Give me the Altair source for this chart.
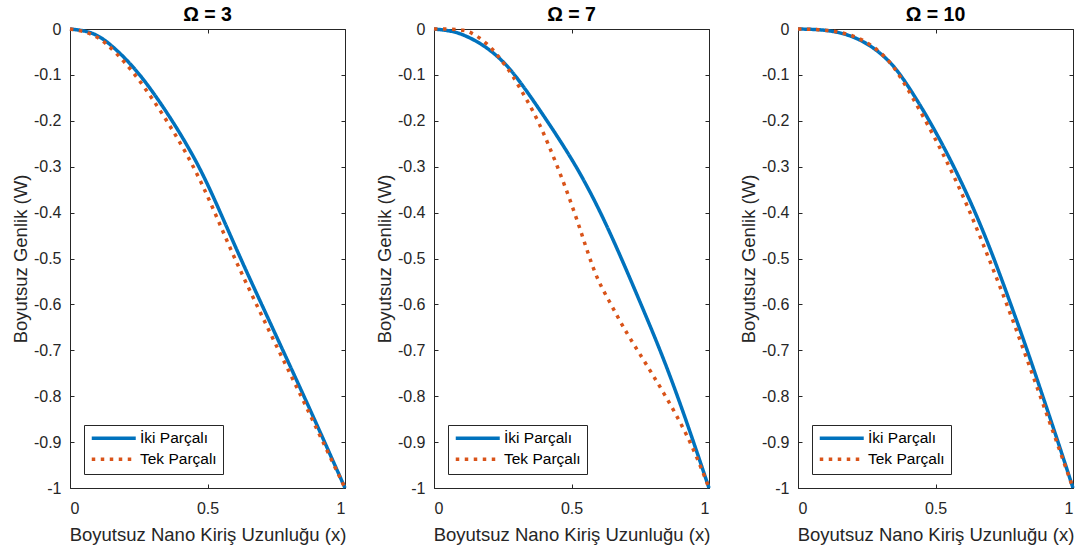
import altair as alt
import pandas as pd

SERIES = ["İki Parçalı", "Tek Parçalı"]
COLORS = ["#0072BD", "#D95319"]
TITLES = ["Ω = 3", "Ω = 7", "Ω = 10"]
X_TICKS = [0, 0.5, 1]
Y_TICKS = [-1, -0.9, -0.8, -0.7, -0.6, -0.5, -0.4, -0.3, -0.2, -0.1, 0]

# Omega = 3
x_iki_3 = [0, 0.06, 0.11, 0.17, 0.259, 0.374, 0.472, 0.547, 0.62, 0.697, 0.774, 0.851, 0.926, 1]
w_iki_3 = [0, -0.004, -0.016, -0.045, -0.1, -0.2, -0.3, -0.4, -0.5, -0.6, -0.7, -0.8, -0.9, -1]
x_tek_3 = [0, 0.06, 0.11, 0.16, 0.241, 0.354, 0.452, 0.527, 0.598, 0.678, 0.758, 0.841, 0.92, 1]
w_tek_3 = [0, -0.006, -0.02, -0.047, -0.1, -0.2, -0.3, -0.4, -0.5, -0.6, -0.7, -0.8, -0.9, -1]

# Omega = 7
x_iki_7 = [0, 0.066, 0.114, 0.175, 0.236, 0.297, 0.412, 0.52, 0.607, 0.682, 0.753, 0.823, 0.886, 0.944, 1]
w_iki_7 = [0, -0.004, -0.014, -0.033, -0.061, -0.1, -0.2, -0.3, -0.4, -0.5, -0.6, -0.7, -0.8, -0.9, -1]
x_tek_7 = [0, 0.06, 0.11, 0.139, 0.165, 0.19, 0.214, 0.236, 0.255, 0.285, 0.333, 0.38, 0.45, 0.512,
           0.566, 0.597, 0.644, 0.688, 0.74, 0.844, 0.935, 1]
w_tek_7 = [0, 0, -0.002, -0.009, -0.019, -0.031, -0.045, -0.061, -0.076, -0.1, -0.15, -0.2, -0.3, -0.4,
           -0.5, -0.55, -0.6, -0.65, -0.7, -0.8, -0.9, -1]

# Omega = 10
x_iki_10 = [0, 0.08, 0.14, 0.2, 0.262, 0.323, 0.376, 0.48, 0.568, 0.646, 0.713, 0.774, 0.834, 0.89, 0.946, 1]
w_iki_10 = [0, -0.001, -0.006, -0.016, -0.035, -0.064, -0.1, -0.2, -0.3, -0.4, -0.5, -0.6, -0.7, -0.8, -0.9, -1]
x_tek_10 = [0, 0.08, 0.14, 0.2, 0.262, 0.323, 0.37, 0.465, 0.552, 0.627, 0.694, 0.76, 0.821, 0.881, 0.941, 1]
w_tek_10 = [0, -0.001, -0.005, -0.014, -0.032, -0.063, -0.1, -0.2, -0.3, -0.4, -0.5, -0.6, -0.7, -0.8, -0.9, -1]

PANELS = [
    (x_iki_3, w_iki_3, x_tek_3, w_tek_3),
    (x_iki_7, w_iki_7, x_tek_7, w_tek_7),
    (x_iki_10, w_iki_10, x_tek_10, w_tek_10),
]

FONT = "Liberation Sans"
INK = "#262626"
TICK = 4
LEG_LINE = 44.0
LEG_R = LEG_LINE / 8.0


def make_df(xi, wi, xt, wt):
    rows = []
    for k, (a, b) in enumerate(zip(xi, wi)):
        rows.append({"x": a, "w": b, "seri": SERIES[0], "o": k})
    for k, (a, b) in enumerate(zip(xt, wt)):
        rows.append({"x": a, "w": b, "seri": SERIES[1], "o": k})
    return pd.DataFrame(rows)


YLAB = "datum.value < 0 ? '-' + format(-datum.value, '.1~f') : format(datum.value, '.1~f')"


def panel(i):
    df = make_df(*PANELS[i])
    xs = alt.Scale(domain=[0, 1], nice=False, zero=False)
    ys = alt.Scale(domain=[-1, 0], nice=False, zero=False)
    leg = alt.Legend(
        orient="bottom-left", offset=14, title=None, strokeColor=INK, fillColor="white",
        padding=5.5, symbolType="M-1,0H7", symbolSize=(2 * LEG_R) ** 2, symbolStrokeWidth=3.5,
        labelFontSize=15.5, labelFont=FONT, labelColor="black", rowPadding=4,
        labelOffset=LEG_LINE - 2 * LEG_R + 2, cornerRadius=0,
    )
    main = alt.Chart(df).mark_line(strokeWidth=3.5, interpolate="basis", strokeCap="butt").encode(
        x=alt.X("x:Q", scale=xs, axis=alt.Axis(
            values=X_TICKS, format="~g", title="Boyutsuz Nano Kiriş Uzunluğu (x)", ticks=False,
            grid=False, domain=False, labelPadding=12, titlePadding=9,
            labelFontSize=16, titleFontSize=18.5, labelFont=FONT, titleFont=FONT,
            labelColor=INK, titleColor=INK, titleFontWeight="normal")),
        y=alt.Y("w:Q", scale=ys, axis=alt.Axis(
            values=Y_TICKS, labelExpr=YLAB, title="Boyutsuz Genlik (W)", ticks=False,
            grid=False, domain=False, labelPadding=9, titlePadding=3,
            labelFontSize=16, titleFontSize=18.5, labelFont=FONT, titleFont=FONT,
            labelColor=INK, titleColor=INK, titleFontWeight="normal")),
        color=alt.Color("seri:N", scale=alt.Scale(domain=SERIES, range=COLORS), legend=leg),
        strokeDash=alt.StrokeDash("seri:N", scale=alt.Scale(domain=SERIES, range=[[1, 0], [3.5, 5.5]]), legend=leg),
        order=alt.Order("o:Q"),
    )
    tick_axis = dict(ticks=True, tickSize=TICK, labels=False, domain=False, grid=False,
                     title=None, tickColor=INK, tickWidth=1)
    t1 = alt.Chart(df).mark_line(opacity=0).encode(
        x=alt.X("x:Q", scale=xs, axis=alt.Axis(values=X_TICKS, orient="bottom", offset=-TICK, **tick_axis)),
        y=alt.Y("w:Q", scale=ys, axis=alt.Axis(values=Y_TICKS, orient="left", offset=-TICK, **tick_axis)),
    )
    t2 = alt.Chart(df).mark_line(opacity=0).encode(
        x=alt.X("x:Q", scale=xs, axis=alt.Axis(values=X_TICKS, orient="top", offset=-TICK, **tick_axis)),
        y=alt.Y("w:Q", scale=ys, axis=alt.Axis(values=Y_TICKS, orient="right", offset=-TICK, **tick_axis)),
    )
    return alt.layer(t1, t2, main).resolve_axis(x="independent", y="independent").properties(
        width=275, height=459,
        title=alt.TitleParams(TITLES[i], fontSize=19.5, fontWeight="bold", font=FONT, color="black",
                              offset=-4, anchor="middle"),
    )


chart = alt.hconcat(panel(0), panel(1), panel(2), spacing=21).resolve_scale(
    color="independent", strokeDash="independent"
).resolve_legend(color="independent", strokeDash="independent").properties(
    padding={"left": 10, "top": 4, "right": 2, "bottom": 2},
    background="white",
).configure_view(stroke=INK, strokeWidth=1)

chart.save("out.html", embed_options={"renderer": "svg", "actions": False})
